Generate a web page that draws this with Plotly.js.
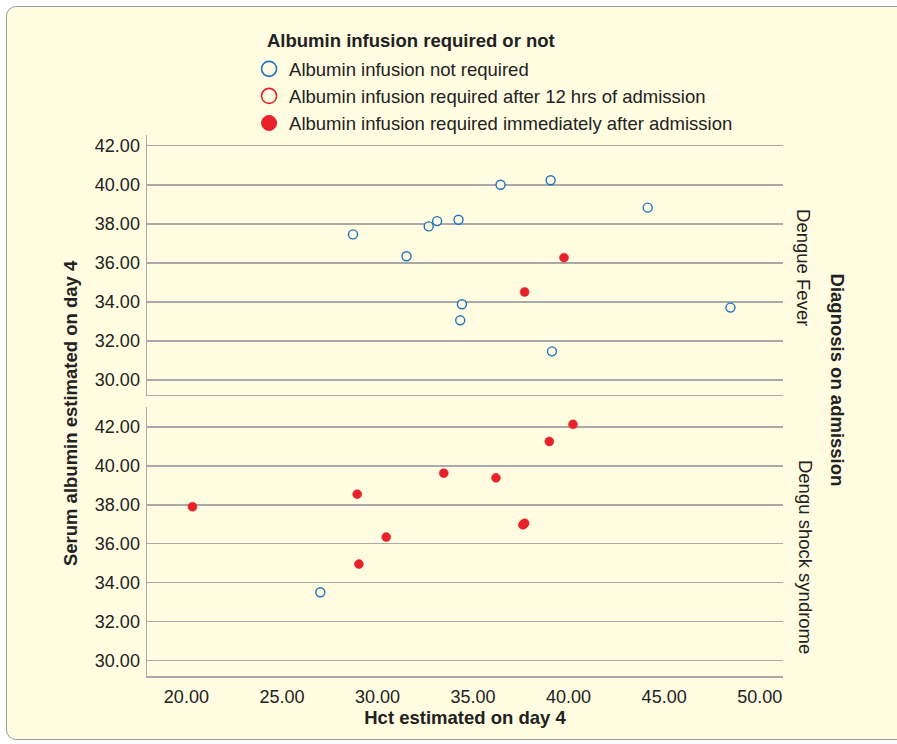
<!DOCTYPE html>
<html>
<head>
<meta charset="utf-8">
<script src="https://cdn.plot.ly/plotly-3.0.1.min.js"></script>
<style>
  html, body { margin:0; padding:0; background:#ffffff; overflow:hidden; width:897px; height:744px; }
  #frame { position:absolute; left:6px; top:6px; width:1000px; height:732px; border:1.5px solid #9c9c9c; border-radius:10px; background:#fffce1; }
  #chart { position:absolute; left:0; top:0; width:897px; height:744px; }
</style>
</head>
<body>
<div id="frame"></div>
<div id="chart"></div>
<script>
// Dengue Fever panel
const dfNotReqHct = [28.72, 31.52, 32.68, 33.12, 34.24, 36.44, 39.06, 44.14, 34.42, 34.33, 39.13, 48.47];
const dfNotReqAlb = [37.46, 36.34, 37.87, 38.14, 38.21, 40.00, 40.23, 38.83, 33.88, 33.06, 31.47, 33.71];
const dfImmHct = [39.76, 37.70];
const dfImmAlb = [36.27, 34.51];
// Dengue shock syndrome panel
const dssNotReqHct = [27.01];
const dssNotReqAlb = [33.50];
const dssImmHct = [20.32, 28.94, 29.03, 30.46, 33.47, 36.20, 37.61, 37.70, 38.99, 40.23];
const dssImmAlb = [37.90, 38.55, 34.95, 36.34, 39.63, 39.39, 36.97, 37.05, 41.26, 42.14];

const legendNames = [
  "Albumin infusion not required",
  "Albumin infusion required after 12 hrs of admission",
  "Albumin infusion required immediately after admission"
];
const panelNames = ["Dengue Fever", "Dengu shock syndrome"];
const xTickVals = [20, 25, 30, 35, 40, 45, 50];
const yTickVals = [30, 32, 34, 36, 38, 40, 42];

const BLUE = "#1f73c0";
const RED = "#e8212b";
const BG = "#fffce1";
const FONT = "'Liberation Sans', Arial, sans-serif";
const TXT = "#222222";

const openBlue = {symbol: "circle", size: 9, color: BG, line: {color: BLUE, width: 1.4}};
const filledRed = {symbol: "circle", size: 9, color: RED, line: {color: RED, width: 0.5}};

const traces = [
  {x: dfNotReqHct, y: dfNotReqAlb, xaxis: "x2", yaxis: "y2", mode: "markers", marker: openBlue, showlegend: false},
  {x: dfImmHct, y: dfImmAlb, xaxis: "x2", yaxis: "y2", mode: "markers", marker: filledRed, showlegend: false},
  {x: dssNotReqHct, y: dssNotReqAlb, xaxis: "x", yaxis: "y", mode: "markers", marker: openBlue, showlegend: false},
  {x: dssImmHct, y: dssImmAlb, xaxis: "x", yaxis: "y", mode: "markers", marker: filledRed, showlegend: false},
  // legend entries
  {x: [null], y: [null], mode: "markers", name: legendNames[0], marker: {symbol: "circle", size: 15, color: BG, line: {color: BLUE, width: 1.6}}},
  {x: [null], y: [null], mode: "markers", name: legendNames[1], marker: {symbol: "circle", size: 15, color: BG, line: {color: RED, width: 1.6}}},
  {x: [null], y: [null], mode: "markers", name: legendNames[2], marker: {symbol: "circle", size: 15, color: RED, line: {color: RED, width: 1}}}
];

const GRID = "#a9a9a9";
const xRange = [17.94, 51.22];

const yCommon = {
  tickvals: yTickVals, tickformat: ".2f", showgrid: true, gridcolor: GRID, gridwidth: 1.5,
  showline: true, linecolor: GRID, linewidth: 1.5, ticks: "", zeroline: false,
  tickfont: {family: FONT, size: 18, color: TXT}, ticklabelstandoff: 2
};

const layout = {
  width: 897, height: 744,
  paper_bgcolor: "rgba(0,0,0,0)", plot_bgcolor: "rgba(0,0,0,0)",
  margin: {l: 147, r: 114, t: 135, b: 68, autoexpand: false},
  font: {family: FONT, size: 18, color: TXT},
  showlegend: true,
  legend: {x: 0.1605, y: 1.1565, xanchor: "left", yanchor: "top", bgcolor: "rgba(0,0,0,0)",
           font: {family: FONT, size: 18.5, color: TXT}, itemclick: false},
  xaxis: {anchor: "y", range: xRange, tickvals: xTickVals, tickformat: ".2f", showgrid: false,
          showline: true, linecolor: GRID, linewidth: 1.5, ticks: "", zeroline: false,
          tickfont: {family: FONT, size: 18, color: TXT}, ticklabelstandoff: 4,
          title: {text: "<b>Hct estimated on day 4</b>", font: {family: FONT, size: 18.5, color: TXT}, standoff: 4}},
  xaxis2: {anchor: "y2", matches: "x", range: xRange, tickvals: xTickVals, showticklabels: false, showgrid: false,
           showline: true, linecolor: GRID, linewidth: 1.5, ticks: "", zeroline: false},
  yaxis: Object.assign({}, yCommon, {anchor: "x", domain: [0, 0.4978], range: [29.19, 43.05]}),
  yaxis2: Object.assign({}, yCommon, {anchor: "x2", domain: [0.5203, 1], range: [29.26, 42.55]}),
  annotations: [
    {text: "<b>Albumin infusion required or not</b>", xref: "paper", yref: "paper", x: 0.1853, y: 1.1738,
     xanchor: "left", yanchor: "middle", showarrow: false, font: {family: FONT, size: 18.5, color: TXT}},
    {text: "<b>Serum albumin estimated on day 4</b>", xref: "paper", yref: "paper", x: -0.121, y: 0.486,
     xanchor: "center", yanchor: "middle", textangle: -90, showarrow: false, font: {family: FONT, size: 18.5, color: TXT}},
    {text: panelNames[0], xref: "paper", yref: "paper", x: 1.033, y: 0.754,
     xanchor: "center", yanchor: "middle", textangle: 90, showarrow: false, font: {family: FONT, size: 18.5, color: TXT}},
    {text: panelNames[1], xref: "paper", yref: "paper", x: 1.0346, y: 0.22,
     xanchor: "center", yanchor: "middle", textangle: 90, showarrow: false, font: {family: FONT, size: 18.5, color: TXT}},
    {text: "<b>Diagnosis on admission</b>", xref: "paper", yref: "paper", x: 1.0857, y: 0.547,
     xanchor: "center", yanchor: "middle", textangle: 90, showarrow: false, font: {family: FONT, size: 18.5, color: TXT}}
  ]
};

Plotly.newPlot("chart", traces, layout, {displayModeBar: false, staticPlot: true});
</script>
</body>
</html>
